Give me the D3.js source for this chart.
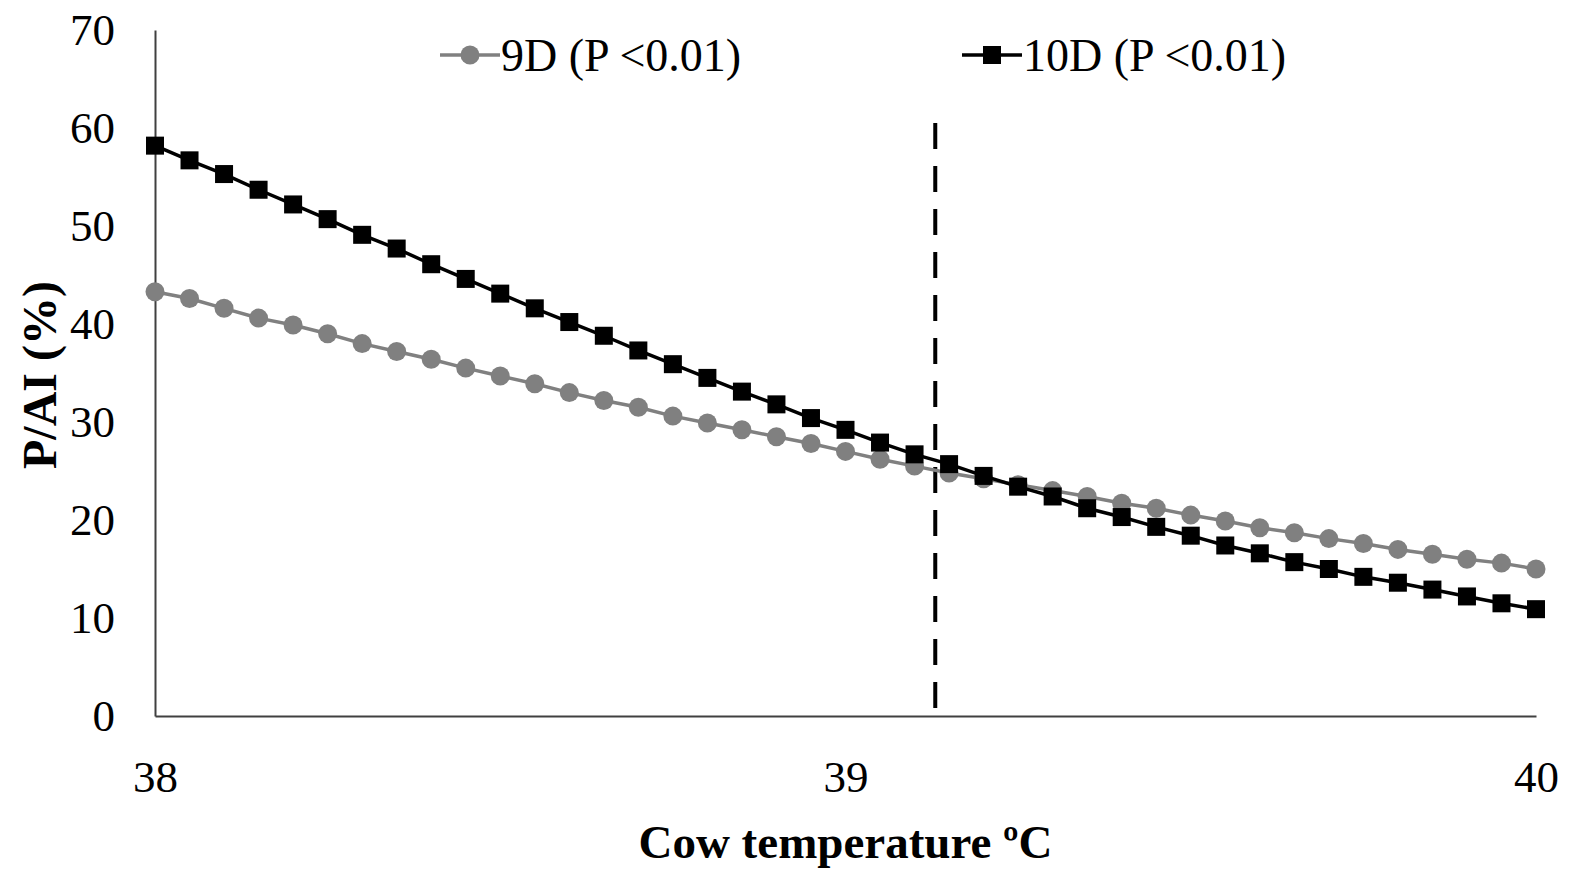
<!DOCTYPE html>
<html>
<head>
<meta charset="utf-8">
<script src="https://cdn.jsdelivr.net/npm/d3@7"></script>
<style>
  body { margin: 0; background: #fff; }
  text { font-family: "Liberation Serif", "Times New Roman", serif; }
</style>
</head>
<body>
<div id="chart"></div>
<script>
// Data
const temps = d3.range(41).map(i => +(38 + i * 0.05).toFixed(2));
const series9D = [43.3, 42.6, 41.6, 40.6, 39.9, 39.0, 38.0, 37.2, 36.4, 35.5,
  34.7, 33.9, 33.0, 32.2, 31.5, 30.6, 29.9, 29.2, 28.5, 27.8,
  27.0, 26.2, 25.5, 24.8, 24.2, 23.6, 23.0, 22.4, 21.7, 21.2,
  20.5, 19.9, 19.2, 18.7, 18.1, 17.6, 17.0, 16.5, 16.0, 15.6, 15.0];
const series10D = [58.2, 56.7, 55.3, 53.7, 52.2, 50.7, 49.1, 47.7, 46.1, 44.6,
  43.1, 41.6, 40.2, 38.8, 37.3, 35.9, 34.5, 33.1, 31.8, 30.4,
  29.2, 27.9, 26.7, 25.7, 24.5, 23.4, 22.4, 21.2, 20.3, 19.3,
  18.4, 17.4, 16.6, 15.7, 15.0, 14.2, 13.6, 12.9, 12.2, 11.5, 10.9];
const yTicks = [0, 10, 20, 30, 40, 50, 60, 70];
const xTicks = [38, 39, 40];
const thresholdTemp = 39.13;
const thresholdTop = 60.5;

const width = 1571;
const height = 869;
const margin = { left: 155, right: 35, top: 30, bottom: 153 };

const svg = d3.select("#chart")
  .append("svg")
  .attr("width", width)
  .attr("height", height);

const x = d3.scaleLinear()
  .domain([38, 40])
  .range([margin.left, width - margin.right]);

const y = d3.scaleLinear()
  .domain([0, 70])
  .range([height - margin.bottom, margin.top]);

// axes
const yAxis = svg.append("g")
  .attr("transform", `translate(${margin.left},0)`)
  .call(d3.axisLeft(y).tickValues(yTicks).tickSize(0).tickPadding(40));
yAxis.select(".domain").attr("stroke", "#404040").attr("stroke-width", 2);
yAxis.selectAll("text")
  .attr("font-size", 45)
  .attr("fill", "#000")
  .style("font-family", "'Liberation Serif', serif");

const xAxis = svg.append("g")
  .attr("transform", `translate(0,${y(0)})`)
  .call(d3.axisBottom(x).tickValues(xTicks).tickFormat(d3.format("d")).tickSize(0).tickPadding(44));
xAxis.select(".domain").attr("stroke", "#404040").attr("stroke-width", 2);
xAxis.selectAll("text")
  .attr("font-size", 45)
  .attr("fill", "#000")
  .style("font-family", "'Liberation Serif', serif");

// threshold dashed line (dashes start from the top)
svg.append("line")
  .attr("x1", x(thresholdTemp))
  .attr("x2", x(thresholdTemp))
  .attr("y1", y(thresholdTop))
  .attr("y2", y(0))
  .attr("stroke", "#000")
  .attr("stroke-width", 4)
  .attr("stroke-dasharray", "26,17");

const line = d3.line()
  .x((d, i) => x(temps[i]))
  .y(d => y(d));

// 9D series
svg.append("path")
  .datum(series9D)
  .attr("d", line)
  .attr("fill", "none")
  .attr("stroke", "#808080")
  .attr("stroke-width", 3.5);

svg.selectAll(".dot9")
  .data(series9D)
  .enter()
  .append("circle")
  .attr("class", "dot9")
  .attr("cx", (d, i) => x(temps[i]))
  .attr("cy", d => y(d))
  .attr("r", 9.5)
  .attr("fill", "#808080");

// 10D series
svg.append("path")
  .datum(series10D)
  .attr("d", line)
  .attr("fill", "none")
  .attr("stroke", "#000")
  .attr("stroke-width", 3.5);

svg.selectAll(".sq10")
  .data(series10D)
  .enter()
  .append("rect")
  .attr("class", "sq10")
  .attr("x", (d, i) => x(temps[i]) - 9)
  .attr("y", d => y(d) - 9)
  .attr("width", 18)
  .attr("height", 18)
  .attr("fill", "#000");

// legend
const legend = [
  { label: "9D (P <0.01)", color: "#808080", shape: "circle", x0: 440 },
  { label: "10D (P <0.01)", color: "#000", shape: "square", x0: 962 }
];
const legendY = 55;

legend.forEach(item => {
  const g = svg.append("g");
  g.append("line")
    .attr("x1", item.x0)
    .attr("x2", item.x0 + 60)
    .attr("y1", legendY)
    .attr("y2", legendY)
    .attr("stroke", item.color)
    .attr("stroke-width", 3.5);
  if (item.shape === "circle") {
    g.append("circle")
      .attr("cx", item.x0 + 30)
      .attr("cy", legendY)
      .attr("r", 9.5)
      .attr("fill", item.color);
  } else {
    g.append("rect")
      .attr("x", item.x0 + 30 - 9)
      .attr("y", legendY - 9)
      .attr("width", 18)
      .attr("height", 18)
      .attr("fill", item.color);
  }
  g.append("text")
    .attr("x", item.x0 + 61)
    .attr("y", legendY + 16)
    .attr("font-size", 46)
    .attr("fill", "#000")
    .text(item.label);
});

// axis titles
svg.append("text")
  .attr("x", (margin.left + width - margin.right) / 2)
  .attr("y", 858)
  .attr("text-anchor", "middle")
  .attr("font-size", 47)
  .attr("font-weight", "bold")
  .text("Cow temperature ºC");

svg.append("text")
  .attr("transform", "translate(56,375) rotate(-90)")
  .attr("text-anchor", "middle")
  .attr("font-size", 48)
  .attr("font-weight", "bold")
  .text("P/AI (%)");
</script>
</body>
</html>
